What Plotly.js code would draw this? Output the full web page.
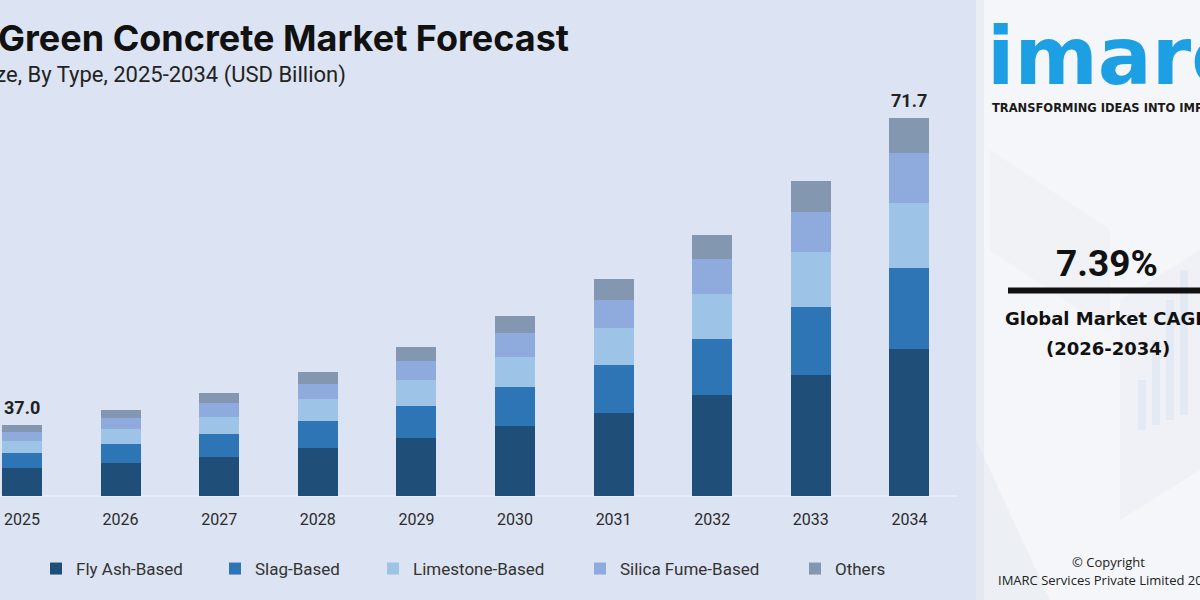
<!DOCTYPE html>
<html>
<head>
<meta charset="utf-8">
<script src="https://cdn.plot.ly/plotly-3.0.1.min.js"></script>
<style>
  html, body { margin: 0; padding: 0; background: #dce3f2; }
  #chart { width: 1200px; height: 600px; }
</style>
</head>
<body>
<div id="chart"></div>
<script>
// Green concrete market size by type (USD billion)
const years = ['2025', '2026', '2027', '2028', '2029', '2030', '2031', '2032', '2033', '2034'];
const flyAsh     = [32.11, 32.75, 33.42, 34.44, 35.50, 36.89, 38.39, 40.39, 42.65, 45.55];
const slag       = [1.70, 2.07, 2.57, 3.05, 3.65, 4.37, 5.39, 6.32, 7.71, 9.15];
const limestone  = [1.42, 1.73, 1.95, 2.42, 2.93, 3.46, 4.14, 5.09, 6.21, 7.34];
const silicaFume = [1.02, 1.21, 1.58, 1.72, 2.18, 2.71, 3.20, 3.91, 4.52, 5.64];
const others     = [0.75, 0.94, 1.06, 1.39, 1.58, 1.92, 2.37, 2.75, 3.46, 4.02];

const seriesNames  = ['Fly Ash-Based', 'Slag-Based', 'Limestone-Based', 'Silica Fume-Based', 'Others'];
const seriesValues = [flyAsh, slag, limestone, silicaFume, others];
const seriesColors = ['#1f4e79', '#2e75b6', '#9dc3e6', '#8faadc', '#8497b0'];
const legendX      = [36, 215, 373, 580, 795];   // left edge of each legend entry, px

const W = 1200, H = 600, plotBottom = 496;
const px = x => x / W;                               // horizontal px -> paper
const py = y => (plotBottom - y) / plotBottom;        // vertical px -> paper

const totals = years.map((_, i) => seriesValues.reduce((s, arr) => s + arr[i], 0));

const traces = seriesNames.map((name, k) => ({
  type: 'bar',
  name: name,
  x: years,
  y: seriesValues[k],
  marker: { color: seriesColors[k], line: { width: 0 } },
  legend: k === 0 ? 'legend' : 'legend' + (k + 1),
  hoverinfo: 'skip'
}));

const legendCommon = {
  orientation: 'h',
  yanchor: 'middle',
  xanchor: 'left',
  y: py(569),
  bgcolor: 'rgba(0,0,0,0)',
  itemwidth: 30,
  font: { family: 'Roboto, sans-serif', size: 17, color: '#333333' }
};

// faint background artwork of the information panel (paper sheets and a small bar chart)
const panelDecor = [
  { path: 'M976,440 L1050,600 L976,600 Z', fill: 'rgba(210,216,226,0.22)' },
  { path: 'M990,150 L1110,230 L1110,330 L990,250 Z', fill: 'rgba(228,232,239,0.25)' },
  { path: 'M1120,300 L1200,250 L1200,470 L1120,520 Z', fill: 'rgba(232,236,242,0.4)' }
];
const decorBars = [
  [1138, 380, 1146, 430], [1152, 340, 1160, 425], [1166, 300, 1174, 420], [1180, 270, 1188, 415]
];

const shapes = [
  // light base line under the bars
  { type: 'line', xref: 'paper', yref: 'paper', x0: 0, x1: px(958), y0: 0, y1: 0,
    line: { color: '#e9eef8', width: 1.5 }, layer: 'below' },
  // right-hand information panel
  { type: 'rect', xref: 'paper', yref: 'paper', x0: px(976), x1: 1, y0: py(600), y1: py(0),
    fillcolor: '#f4f6f9', line: { width: 0 }, layer: 'below' },
  { type: 'rect', xref: 'paper', yref: 'paper', x0: px(976), x1: px(984), y0: py(600), y1: py(0),
    fillcolor: '#eaeef4', line: { width: 0 }, layer: 'below' }
];
panelDecor.forEach(d => {
  const p = d.path.replace(/(\d+),(\d+)/g, (m, a, b) => px(+a) + ',' + py(+b));
  shapes.push({ type: 'path', xref: 'paper', yref: 'paper', path: p,
    fillcolor: d.fill, line: { width: 0 }, layer: 'below' });
});
decorBars.forEach(b => {
  shapes.push({ type: 'rect', xref: 'paper', yref: 'paper',
    x0: px(b[0]), x1: px(b[2]), y0: py(b[3]), y1: py(b[1]),
    fillcolor: 'rgba(190,215,238,0.25)', line: { width: 0 }, layer: 'below' });
});
// divider under the CAGR figure
shapes.push({ type: 'line', xref: 'paper', yref: 'paper', x0: px(1008), x1: px(1205),
  y0: py(290.5), y1: py(290.5), line: { color: '#111111', width: 6 } });

const layout = {
  width: W, height: H,
  paper_bgcolor: '#dce3f2',
  plot_bgcolor: 'rgba(0,0,0,0)',
  margin: { l: 0, r: 0, t: 0, b: H - plotBottom, pad: 0 },
  barmode: 'stack',
  bargap: 0.594,
  showlegend: true,
  xaxis: {
    type: 'category',
    range: [-0.223, 11.947],
    showgrid: false, zeroline: false, showline: false,
    ticks: '', ticklabelstandoff: 12,
    tickfont: { family: 'Roboto, sans-serif', size: 16, color: '#2b2b2b' },
    fixedrange: true
  },
  yaxis: {
    range: [29.0, 85.0],
    visible: false,
    fixedrange: true
  },
  shapes: shapes,
  annotations: [
    { xref: 'paper', yref: 'paper', x: px(571), y: py(38), xanchor: 'right', yanchor: 'middle',
      text: '<b>Green Concrete Market Forecast</b>', showarrow: false,
      font: { family: 'Inter, Roboto, sans-serif', size: 36, color: '#111111' } },
    { xref: 'paper', yref: 'paper', x: px(348), y: py(75), xanchor: 'right', yanchor: 'middle',
      text: 'Market Size, By Type, 2025-2034 (USD Billion)', showarrow: false,
      font: { family: 'Roboto, sans-serif', size: 22, color: '#222222' } },
    // logo block
    { xref: 'paper', yref: 'paper', x: px(985), y: py(57), xanchor: 'left', yanchor: 'middle',
      text: '<b>imarc</b>', showarrow: false,
      font: { family: 'DejaVu Sans, sans-serif', size: 80, color: '#1d9fe4' } },
    { xref: 'paper', yref: 'paper', x: px(990), y: py(108), xanchor: 'left', yanchor: 'middle',
      text: '<b>TRANSFORMING IDEAS INTO IMPACT</b>', showarrow: false,
      font: { family: 'DejaVu Sans, sans-serif', size: 11.5, color: '#1a1a1a' } },
    // growth rate block
    { xref: 'paper', yref: 'paper', x: px(1107), y: py(263), xanchor: 'center', yanchor: 'middle',
      text: '<b>7.39%</b>', showarrow: false,
      font: { family: 'Roboto, sans-serif', size: 37, color: '#111111' } },
    { xref: 'paper', yref: 'paper', x: px(1003), y: py(318), xanchor: 'left', yanchor: 'middle',
      text: '<b>Global Market CAGR</b>', showarrow: false,
      font: { family: 'DejaVu Sans, sans-serif', size: 18, color: '#111111' } },
    { xref: 'paper', yref: 'paper', x: px(1108), y: py(348), xanchor: 'center', yanchor: 'middle',
      text: '<b>(2026-2034)</b>', showarrow: false,
      font: { family: 'DejaVu Sans, sans-serif', size: 18, color: '#111111' } },
    { xref: 'paper', yref: 'paper', x: px(1108), y: py(562), xanchor: 'center', yanchor: 'middle',
      text: '© Copyright', showarrow: false,
      font: { family: 'Open Sans, sans-serif', size: 13, color: '#222222' } },
    { xref: 'paper', yref: 'paper', x: px(996), y: py(580), xanchor: 'left', yanchor: 'middle',
      text: 'IMARC Services Private Limited 2025', showarrow: false,
      font: { family: 'Open Sans, sans-serif', size: 13, color: '#222222' } }
  ]
};

// total value labels above the first and last bars (category index as position)
[0, years.length - 1].forEach(i => {
  layout.annotations.push({
    x: i, y: totals[i], xref: 'x', yref: 'y',
    yanchor: 'bottom', yshift: 5, showarrow: false,
    text: '<b>' + totals[i].toFixed(1) + '</b>',
    font: { family: 'Roboto, sans-serif', size: 18, color: '#222222' }
  });
});

// one legend per series so each entry sits at its own position
seriesNames.forEach((_, k) => {
  const key = k === 0 ? 'legend' : 'legend' + (k + 1);
  layout[key] = Object.assign({}, legendCommon, { x: px(legendX[k]) });
});

Plotly.newPlot('chart', traces, layout, { displayModeBar: false, staticPlot: true });
</script>
</body>
</html>
